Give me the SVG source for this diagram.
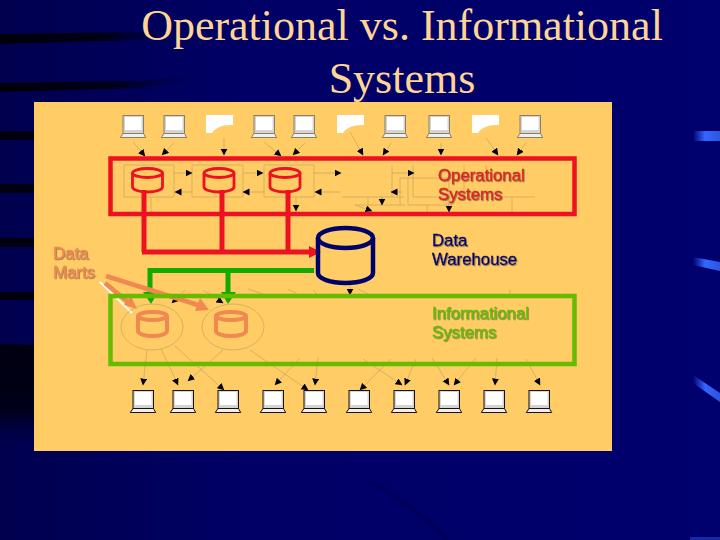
<svg xmlns="http://www.w3.org/2000/svg" width="720" height="540" viewBox="0 0 720 540">
<style>
.thin{fill:none;stroke:#c9a55e;stroke-width:.7}
.arr{fill:none;stroke:#bd9c5c;stroke-width:.6;marker-end:url(#blk)}
.cyl{fill:none;stroke-linejoin:round}
.lbl{font-family:"Liberation Sans",Arial,sans-serif;font-size:16.800px;stroke-width:.35;filter:url(#sh)}
.ttl{font-family:"Liberation Serif","Times New Roman",serif;font-size:44px;fill:#ffd596;text-anchor:middle}
</style>
<defs>
<linearGradient id="bg" x1="0" x2="1" y1="0" y2="0"><stop offset="0" stop-color="#00004e"/><stop offset=".35" stop-color="#000066"/><stop offset="1" stop-color="#00006e"/></linearGradient>
<linearGradient id="st" x1="0" x2="1" y1="0" y2="0"><stop offset="0" stop-color="#000008"/><stop offset=".55" stop-color="#000018"/><stop offset="1" stop-color="#000060" stop-opacity="0"/></linearGradient>
<linearGradient id="lo" x1="0" x2="0" y1="0" y2="1"><stop offset="0" stop-color="#000010"/><stop offset=".6" stop-color="#000018"/><stop offset="1" stop-color="#00004e" stop-opacity="0"/></linearGradient>
<linearGradient id="bl" x1="0" x2="1" y1="0" y2="0"><stop offset="0" stop-color="#000070"/><stop offset=".45" stop-color="#3366ff"/><stop offset="1" stop-color="#2c55dd"/></linearGradient>
<filter id="sh" x="-5%" y="-20%" width="115%" height="150%"><feDropShadow dx=".8" dy=".8" stdDeviation=".25" flood-color="#6a5a40" flood-opacity=".75"/></filter>
<marker id="blk" markerWidth="8" markerHeight="8" refX="6.500" refY="3.500" orient="auto" markerUnits="userSpaceOnUse"><path d="M0 0L7 3.500L0 7z" fill="#000"/></marker>
<symbol id="pc" viewBox="0 0 26 23" width="26" height="23" overflow="visible">
<rect x="3" y=".5" width="20.5" height="18" fill="#d4d4d4" stroke="currentColor" stroke-width="1"/>
<rect x="5" y="2" width="16.5" height="13" fill="#fff"/>
<path d="M3 18.5H23.5L25.7 22.5H.3z" fill="#efefef" stroke="currentColor" stroke-width="1"/>
</symbol>
<symbol id="pp" viewBox="0 0 27 18" width="27" height="18" overflow="visible">
<path d="M0 0H27V10Q12 9 6 18H0z" fill="#fff"/>
</symbol>
</defs>

<rect width="720" height="540" fill="url(#bg)"/>
<path d="M0 34L140 32L200 27V32L140 40L0 44z" fill="url(#st)"/>
<path d="M0 83L140 81L210 73V79L140 88L0 92z" fill="url(#st)"/>
<rect x="0" y="131" width="36" height="9" fill="#000010"/>
<rect x="0" y="184" width="36" height="9" fill="#000010"/>
<rect x="0" y="238" width="36" height="9" fill="#000010"/>
<rect x="0" y="292" width="36" height="8" fill="#000010"/>
<path d="M0 344L36 345V452H0z" fill="url(#lo)"/>
<path d="M370 480Q420 505 450 540H443Q410 505 370 484z" fill="#000050" opacity=".5"/>
<rect x="693" y="131" width="27" height="10" fill="url(#bl)"/>
<path d="M693 257L720 262V271L693 265z" fill="url(#bl)"/>
<path d="M693 375L720 393V402L693 383z" fill="url(#bl)"/>
<path d="M690 537H720V540H690z" fill="#2c55dd" opacity=".5"/>

<text class="ttl" x="402" y="40">Operational vs. Informational</text>
<text class="ttl" x="402" y="93">Systems</text>

<rect x="34" y="102" width="578" height="349" fill="#ffcc66"/>

<g id="connectors">
<path class="thin" d="M124 165V197H174V165H124M192 197V165H243V197H192M264 165V197H314V165H264M342 197H404M392 165V197M413 165V197H535M400 205V178H455M408 178V205M355 205H405M408 205H453M427 205V213M449 180V205M512 197V213M464 165V197M486 165V183M151 197V212M368 197V205M382 197V200"/>
<path class="arr" d="M133 142L145 156"/>
<path class="arr" d="M174 143L162 155"/>
<path class="arr" d="M224 138V155"/>
<path class="arr" d="M264 142L281 156"/>
<path class="arr" d="M305 143L293 155"/>
<path class="arr" d="M350 132L363 155"/>
<path class="arr" d="M391 143L383 155"/>
<path class="arr" d="M441 143V155"/>
<path class="arr" d="M486 138L498 155"/>
<path class="arr" d="M526 143L517 155"/>

<path class="arr" d="M174 173H192"/>
<path class="arr" d="M192 192H175"/>
<path class="arr" d="M243 173H263"/>
<path class="arr" d="M264 192H243"/>
<path class="arr" d="M314 173H341"/>
<path class="arr" d="M340 192H315"/>
<path class="arr" d="M296 197V211"/>
<path class="arr" d="M355 205L372 211"/>
<path class="arr" d="M382 197V205"/>
<path class="arr" d="M402 192H391"/>
<path class="arr" d="M392 173H414"/>
<path class="arr" d="M449 200V212"/>

<path class="arr" d="M350 285V295"/>
<path class="thin" d="M358 289L368 294M510 289V294M248 289L263 294M288 289L297 294M313 290L317 294"/>
<path class="arr" d="M185 290L172 303"/>
<path class="arr" d="M203 290L223 303"/>

<path class="arr" d="M147 350L143 385"/>
<path class="arr" d="M161 349L178 385"/>
<path class="arr" d="M223 350L188 381"/>
<path class="arr" d="M175 346L224 390"/>
<path class="arr" d="M300 358L275 385"/>
<path class="arr" d="M250 350L308 390"/>
<path class="arr" d="M318 357L315 385"/>
<path class="arr" d="M391 359L360 390"/>
<path class="arr" d="M363 359L402 385"/>
<path class="arr" d="M416 359L405 385"/>
<path class="arr" d="M432 358L449 385"/>
<path class="arr" d="M476 358L454 385"/>
<path class="arr" d="M497 358L495 385"/>
<path class="arr" d="M526 359L540 385"/>

<g id="red-flow" fill="none" stroke="#ee1122" stroke-width="5">
<path d="M144 190V252M222 190V252M288 190V252M142 252H314"/>
<path d="M309 246L321 252L309 258z" fill="#ee1122" stroke="none"/>
</g>
<g id="green-flow" fill="none" stroke="#11aa00" stroke-width="5">
<path d="M314 270.500H150V294M228 270.500V294"/>
<path d="M143 292H158L151 304z" fill="#11aa00" stroke="none"/>
<path d="M221 292H236L228 304z" fill="#11aa00" stroke="none"/>
</g>
<g id="marts-flow">
<path d="M100 282L132 313" stroke="#fff" stroke-width="2" fill="none"/>
<path d="M105 283L128 302" stroke="#f08850" stroke-width="4.500" fill="none"/>
<path d="M124 305L137 309L131 296z" fill="#f08850"/>
<path d="M106 276L198 305" stroke="#f08850" stroke-width="4.500" fill="none"/>
<path d="M195 311L209 310L200 298z" fill="#f08850"/>
</g>
</g>

<g id="operational-systems">
<rect x="110.500" y="158.500" width="464" height="55.500" fill="none" stroke="#ee1122" stroke-width="4.500"/>
</g>
<g id="informational-systems">
<rect x="110.500" y="296" width="464" height="68" fill="none" stroke="#66bb00" stroke-width="4.500"/>
</g>

<g id="op-db-1" class="cyl" stroke="#ee1122" stroke-width="2.800"><path d="M132.500 173V187A15 5 0 0 0 162.500 187V173"/><ellipse cx="147.500" cy="173" rx="15" ry="4.500"/></g>
<g id="op-db-2" class="cyl" stroke="#ee1122" stroke-width="2.800"><path d="M204 173V187A15 5 0 0 0 234 187V173"/><ellipse cx="219" cy="173" rx="15" ry="4.500"/></g>
<g id="op-db-3" class="cyl" stroke="#ee1122" stroke-width="2.800"><path d="M270 173V187A15 5 0 0 0 300 187V173"/><ellipse cx="285" cy="173" rx="15" ry="4.500"/></g>

<g id="data-warehouse" class="cyl" stroke="#00006b" stroke-width="4.500">
<path d="M318 238V273A27.500 10 0 0 0 373 273V238"/>
<ellipse cx="345.500" cy="238" rx="27.500" ry="10"/>
</g>

<g id="mart-1">
<ellipse cx="152" cy="327" rx="31" ry="23" class="thin"/>
<g class="cyl" stroke="#f08850" stroke-width="4"><path d="M138 316V331A14.500 5 0 0 0 167 331V316"/><ellipse cx="152.500" cy="316" rx="14.500" ry="4"/></g>
</g>
<g id="mart-2">
<ellipse cx="233" cy="327" rx="31" ry="23" class="thin"/>
<g class="cyl" stroke="#f08850" stroke-width="4"><path d="M216 316V331A15 5 0 0 0 246 331V316"/><ellipse cx="231" cy="316" rx="15" ry="4"/></g>
</g>

<g id="top-clients" color="#8a8060">
<use href="#pc" x="120" y="115"/><use href="#pc" x="161" y="115"/><use href="#pp" x="206" y="115"/>
<use href="#pc" x="251" y="115"/><use href="#pc" x="291" y="115"/><use href="#pp" x="337" y="115"/>
<use href="#pc" x="382" y="115"/><use href="#pc" x="426" y="115"/><use href="#pp" x="472" y="115"/>
<use href="#pc" x="517" y="115"/>
</g>
<g id="bottom-clients" color="#1a1208">
<use href="#pc" x="130" y="390"/><use href="#pc" x="170" y="390"/><use href="#pc" x="215" y="390"/>
<use href="#pc" x="260" y="390"/><use href="#pc" x="301" y="390"/><use href="#pc" x="346" y="390"/>
<use href="#pc" x="391" y="390"/><use href="#pc" x="436" y="390"/><use href="#pc" x="481" y="390"/>
<use href="#pc" x="526" y="390"/>
</g>

<g id="labels">
<text class="lbl" x="53" y="259" fill="#ee8a55" stroke="#ee8a55"><tspan x="53">Data</tspan><tspan x="53" dy="19">Marts</tspan></text>
<text class="lbl" x="438" y="181" fill="#dd2222" stroke="#dd2222"><tspan x="438">Operational</tspan><tspan x="438" dy="19">Systems</tspan></text>
<text class="lbl" x="432" y="246" fill="#00006b" stroke="#00006b"><tspan x="432">Data</tspan><tspan x="432" dy="19">Warehouse</tspan></text>
<text class="lbl" x="432" y="319" fill="#66bb00" stroke="#66bb00"><tspan x="432">Informational</tspan><tspan x="432" dy="19">Systems</tspan></text>
</g>
</svg>
